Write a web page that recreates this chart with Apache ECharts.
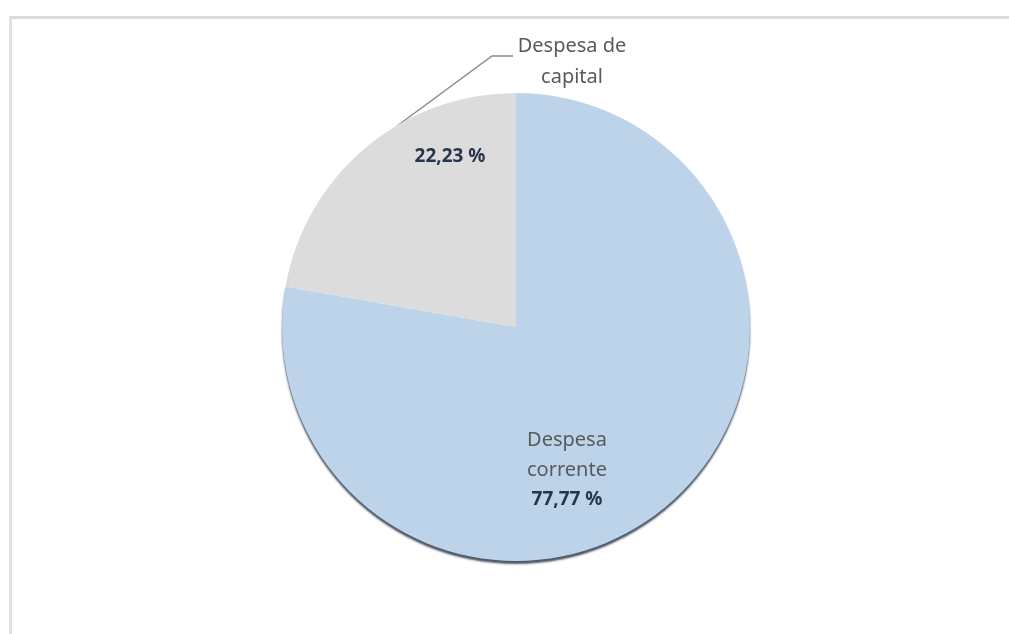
<!DOCTYPE html>
<html>
<head>
<meta charset="utf-8">
<script src="https://cdn.jsdelivr.net/npm/echarts@6/dist/echarts.min.js"></script>
<style>
  html, body { margin: 0; padding: 0; background: #ffffff; }
  #frame { position: absolute; left: 9px; top: 16px; width: 1000px; height: 618px;
           border-top: 3px solid #dcdcdc; border-left: 3px solid #e0e0e0; box-sizing: border-box; }
  #chart { position: absolute; left: 0; top: 0; width: 1009px; height: 634px; }
</style>
</head>
<body>
<div id="frame"></div>
<div id="chart"></div>
<script>
const categories = ['Despesa corrente', 'Despesa de capital'];
const labelNames = ['Despesa\ncorrente', 'Despesa de\ncapital'];
const values = [77.77, 22.23];
const colors = ['#bcd3ea', '#dcdcdc'];

function fmt(v) { return v.toFixed(2).replace('.', ',') + ' %'; }

const chart = echarts.init(document.getElementById('chart'), null, { renderer: 'canvas' });

const baseData = categories.map((c, i) => ({ name: c, value: values[i] }));
const CENTER = [516, 327];
const RADIUS = 234;

const option = {
  backgroundColor: 'transparent',
  animation: false,
  series: [
    {
      type: 'pie',
      center: CENTER,
      radius: RADIUS,
      startAngle: 90,
      clockwise: true,
      silent: true,
      data: baseData.map((d, i) => ({
        name: d.name,
        value: d.value,
        itemStyle: Object.assign({ color: colors[i], borderWidth: 0 },
          i === 0 ? { shadowColor: 'rgba(45,58,75,0.85)', shadowBlur: 2, shadowOffsetY: 3 } : {}),
        label: i === 0 ? {
          show: true,
          position: 'inside',
          formatter: '{n|Despesa}\n{n|corrente}\n{p|' + fmt(d.value) + '}',
          rich: {
            n: { fontFamily: 'Noto Sans', fontSize: 20, color: '#5a5a5a', lineHeight: 30, align: 'center' },
            p: { fontFamily: 'Noto Sans', fontSize: 19, fontWeight: 'bold', color: '#26354a', lineHeight: 30, align: 'center' }
          }
        } : {
          show: true,
          position: 'outside',
          formatter: labelNames[i],
          fontFamily: 'Noto Sans',
          fontSize: 20,
          color: '#5a5a5a',
          lineHeight: 31,
          align: 'center'
        },
        labelLine: i === 0 ? { show: false } : {
          show: true,
          lineStyle: { color: '#8c8c8c', width: 1.5 }
        }
      })),
      labelLayout: function (p) {
        if (p.dataIndex === 0) {
          return { x: 567, y: 470, align: 'center', verticalAlign: 'middle' };
        }
        return {
          x: 572, y: 62, align: 'center', verticalAlign: 'middle',
          labelLinePoints: [[397, 126], [492, 56], [513, 56]]
        };
      }
    },
    {
      type: 'pie',
      center: CENTER,
      radius: RADIUS,
      startAngle: 90,
      clockwise: true,
      silent: true,
      z: 3,
      data: baseData.map((d, i) => ({
        name: d.name,
        value: d.value,
        itemStyle: { color: 'rgba(0,0,0,0)' },
        label: {
          show: i === 1,
          position: 'inside',
          formatter: fmt(d.value),
          fontFamily: 'Noto Sans',
          fontSize: 19,
          fontWeight: 'bold',
          color: '#26354a'
        },
        labelLine: { show: false }
      })),
      labelLayout: function (p) {
        if (p.dataIndex === 1) {
          return { x: 450, y: 157, align: 'center', verticalAlign: 'middle' };
        }
      }
    }
  ]
};

chart.setOption(option);
</script>
</body>
</html>
